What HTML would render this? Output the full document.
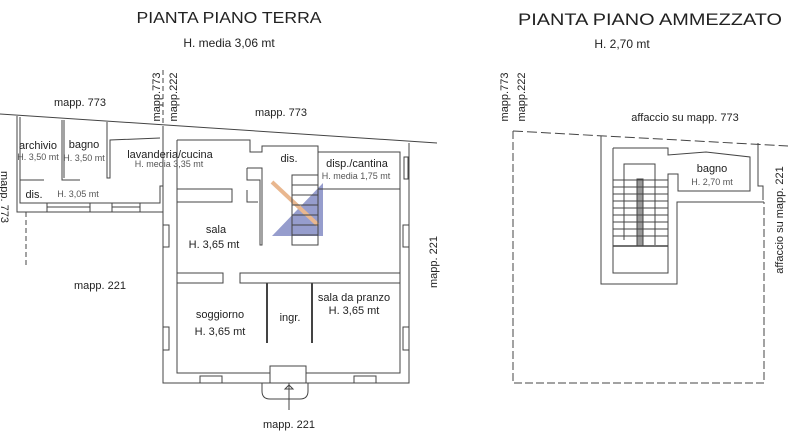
<!DOCTYPE html>
<html><head><meta charset="utf-8"><style>
html,body{margin:0;padding:0;background:#fff;width:810px;height:441px;overflow:hidden}
svg{display:block}
text{font-family:"Liberation Sans",sans-serif;fill:#222}
.t{font-size:11px}
.s{font-size:9px;fill:#555}
</style></head><body>
<svg width="810" height="441" viewBox="0 0 810 441" xmlns="http://www.w3.org/2000/svg">
<g text-anchor="middle">
<text x="229" y="23" style="font-size:16px" textLength="185" lengthAdjust="spacingAndGlyphs">PIANTA PIANO TERRA</text>
<text x="229" y="47" style="font-size:12px">H. media 3,06 mt</text>
<text x="650" y="25" style="font-size:17px" textLength="264" lengthAdjust="spacingAndGlyphs">PIANTA PIANO AMMEZZATO</text>
<text x="622" y="48" style="font-size:12px">H. 2,70 mt</text>
</g>
<g opacity="0.7">
<polygon points="272,236 323,183 323,236" fill="#6b74b8"/>
<line x1="272" y1="182" x2="318" y2="225" stroke="#e09a60" stroke-width="4"/>
</g>
<g fill="none" stroke="#444" stroke-width="1">
<line x1="0" y1="114" x2="437" y2="143"/>
<line x1="163" y1="70" x2="163" y2="140" stroke-dasharray="5,3"/>
<line x1="26" y1="212" x2="26" y2="265" stroke-dasharray="5,3"/>
<polyline points="17,116 17,212 163,212"/>
<polyline points="20,117 20,203 160,203 160,186 163,186"/>
<polyline points="20,180 44,180"/><polyline points="62,120 62,180 80,180"/><polyline points="64,120 64,178"/>
<polyline points="107,122 107,178 110,178 110,140 160,138"/>
<rect x="47" y="203" width="43" height="9" fill="#fff"/><line x1="47" y1="207" x2="90" y2="207"/>
<rect x="112" y="203" width="28" height="9" fill="#fff"/><line x1="112" y1="207" x2="140" y2="207"/>
<polyline points="163,131 163,383 409,383 409,143"/>
<polyline points="177,140 250,140 250,152 262,152 262,146 318,146 318,152 400,152 400,373 177,373 177,140"/>
<polyline points="177,189 232,189 232,202 177,202"/>
<polyline points="177,273 223,273 223,283 177,283"/>
<polyline points="400,273 240,273 240,283 400,283"/>
<polyline points="247,168 262,168 262,245 260,245 260,180 247,180 247,168"/>
<polyline points="247,190 247,202 258,202"/>
<rect x="292" y="175" width="26" height="70"/>
<line x1="292" y1="185" x2="318" y2="185"/><line x1="292" y1="195" x2="318" y2="195"/><line x1="292" y1="205" x2="318" y2="205"/><line x1="292" y1="215" x2="318" y2="215"/><line x1="292" y1="225" x2="318" y2="225"/><line x1="292" y1="235" x2="318" y2="235"/>
<polyline points="318,189 400,189"/><polyline points="318,175 318,152"/>
<line x1="267" y1="283" x2="267" y2="343" stroke-width="2"/>
<line x1="312" y1="283" x2="312" y2="343" stroke-width="2"/>
<rect x="163" y="225" width="6" height="22" fill="#fff"/><rect x="163" y="327" width="6" height="23" fill="#fff"/>
<rect x="403" y="225" width="6" height="22" fill="#fff"/><rect x="403" y="327" width="6" height="23" fill="#fff"/>
<rect x="404" y="157" width="4" height="22"/>
<rect x="200" y="376" width="22" height="7" fill="#fff"/><rect x="354" y="376" width="22" height="7" fill="#fff"/>
<rect x="270" y="366" width="36" height="17" fill="#fff"/>
<path d="M262,383 v8 q0,8 8,8 h30 q8,0 8,-8 v-8"/>
<line x1="289" y1="383" x2="289" y2="410"/>
<polygon points="285,389 289,385 293,389"/>
<polyline points="513,131 788,146" stroke-dasharray="10,4"/>
<polyline points="513,131 513,383 764,383 764,202" stroke-dasharray="8,3"/>
<polyline points="601,136 601,284 677,284 677,202 764,202"/>
<polyline points="758,143 758,186 763,186 763,200"/>
<polyline points="613,148 668,148 668,155 706,152 750,157 750,191 678,191 678,174 668,174 668,273 613,273 613,148"/>
<polyline points="624,240 624,164 655,164 655,245"/>
<rect x="637" y="179" width="6" height="67" fill="#999"/>
<line x1="613" y1="180" x2="668" y2="180"/><line x1="613" y1="187" x2="668" y2="187"/><line x1="613" y1="194" x2="668" y2="194"/><line x1="613" y1="201" x2="668" y2="201"/><line x1="613" y1="208" x2="668" y2="208"/><line x1="613" y1="215" x2="668" y2="215"/><line x1="613" y1="222" x2="668" y2="222"/><line x1="613" y1="229" x2="668" y2="229"/><line x1="613" y1="236" x2="668" y2="236"/><line x1="613" y1="246" x2="668" y2="246" stroke-width="1.5"/>
</g>
<g text-anchor="middle" class="t">
<text x="80" y="106" class="t">mapp. 773</text>
<text x="281" y="116" class="t">mapp. 773</text>
<text x="100" y="289" class="t">mapp. 221</text>
<text x="289" y="428" class="t">mapp. 221</text>
<text transform="translate(160,97) rotate(-90)" class="t">mapp.773</text>
<text transform="translate(177,97) rotate(-90)" class="t">mapp.222</text>
<text transform="translate(437,262) rotate(-90)" class="t">mapp. 221</text>
<text transform="translate(1,197) rotate(90)" class="t">mapp. 773</text>
<text x="38" y="149" class="t">archivio</text><text x="38" y="160" class="s">H. 3,50 mt</text>
<text x="84" y="148" class="t">bagno</text><text x="84" y="161" class="s">H. 3,50 mt</text>
<text x="170" y="158" class="t">lavanderia/cucina</text><text x="169" y="167" class="s">H. media 3,35 mt</text>
<text x="289" y="162" class="t">dis.</text>
<text x="357" y="167" class="t">disp./cantina</text><text x="356" y="179" class="s">H. media 1,75 mt</text>
<text x="34" y="198" class="t">dis.</text><text x="78" y="197" class="s">H. 3,05 mt</text>
<text x="216" y="233" class="t">sala</text><text x="214" y="248" class="t">H. 3,65 mt</text>
<text x="220" y="318" class="t">soggiorno</text><text x="220" y="335" class="t">H. 3,65 mt</text>
<text x="290" y="321" class="t">ingr.</text>
<text x="354" y="301" class="t">sala da pranzo</text><text x="354" y="314" class="t">H. 3,65 mt</text>
<text transform="translate(508,97) rotate(-90)" class="t">mapp.773</text>
<text transform="translate(525,97) rotate(-90)" class="t">mapp.222</text>
<text x="685" y="121" class="t">affaccio su mapp. 773</text>
<text transform="translate(783,220) rotate(-90)" class="t">affaccio su mapp. 221</text>
<text x="712" y="172" class="t">bagno</text><text x="712" y="185" class="s">H. 2,70 mt</text>
</g>
</svg>
</body></html>
